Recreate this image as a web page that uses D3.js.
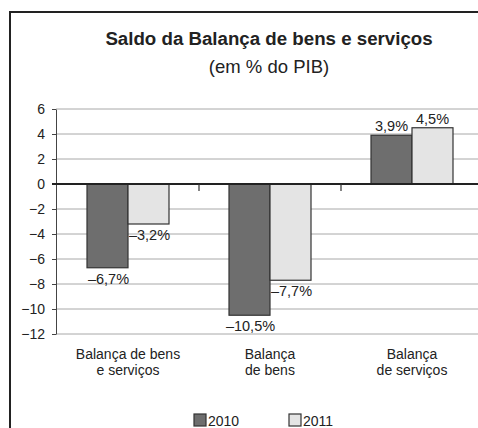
<html>
<head>
<meta charset="utf-8">
<script src="https://d3js.org/d3.v7.min.js"></script>
<style>
body { margin: 0; background: #fff; font-family: 'Liberation Sans', Arial, sans-serif; }
svg { display: block; }
.grid line { stroke: #a8a8a8; stroke-width: 1; }
text { fill: #222; }
</style>
</head>
<body>
<div id="chart"></div>
<script>
var categories = [["Balança de bens", "e serviços"], ["Balança", "de bens"], ["Balança", "de serviços"]];
var years = ["2010", "2011"];
var values2010 = [-6.7, -10.5, 3.9];
var values2011 = [-3.2, -7.7, 4.5];
var labels2010 = ["\u20136,7%", "\u201310,5%", "3,9%"];
var labels2011 = ["\u20133,2%", "\u20137,7%", "4,5%"];
var yTicks = [6, 4, 2, 0, -2, -4, -6, -8, -10, -12];
var colors = ["#6e6e6e", "#e4e4e4"];

var width = 478, height = 428;

var svg = d3.select("#chart").append("svg")
	.attr("width", width).attr("height", height);

// outer frame (only top and left show in the picture)
svg.append("line").attr("x1", 10).attr("x2", width + 5).attr("y1", 12).attr("y2", 12)
	.attr("stroke", "#222").attr("stroke-width", 2);
svg.append("line").attr("x1", 10).attr("x2", 10).attr("y1", 11).attr("y2", height + 5)
	.attr("stroke", "#222").attr("stroke-width", 2);

svg.append("text").attr("x", 269).attr("y", 45).attr("text-anchor", "middle")
	.style("font-size", "18.7px").style("font-weight", "bold")
	.text("Saldo da Balança de bens e serviços");
svg.append("text").attr("x", 269).attr("y", 73).attr("text-anchor", "middle")
	.style("font-size", "18.5px")
	.text("(em % do PIB)");

var y = d3.scaleLinear().domain([-12, 6]).range([334, 109]);
var x = d3.scaleBand().domain(d3.range(categories.length)).range([57, 483]);
var xs = d3.scaleBand().domain(years).range([0, 82]);
var groupOffset = (x.bandwidth() - 82) / 2;

// gridlines
svg.append("g").attr("class", "grid")
	.selectAll("line").data(yTicks.filter(function (d) { return d != 0; }))
	.enter().append("line")
	.attr("x1", 56).attr("x2", width)
	.attr("y1", function (d) { return y(d); })
	.attr("y2", function (d) { return y(d); });

// y axis
var yAxis = d3.axisLeft(y).tickValues(yTicks).tickSize(4).tickSizeOuter(0)
	.tickFormat(function (d) { return d < 0 ? "\u2212" + Math.abs(d) : d; });
var gy = svg.append("g").attr("transform", "translate(56,0)").call(yAxis);
gy.select(".domain").attr("stroke", "#444");
gy.selectAll(".tick line").attr("stroke", "#444");
gy.selectAll("text").style("font-size", "14px").style("font-family", "'Liberation Sans', Arial, sans-serif")
	.attr("fill", "#222").attr("x", -11);

var series = [values2010, values2011];
var labels = [labels2010, labels2011];

series.forEach(function (vals, s) {
	vals.forEach(function (v, i) {
		var bx = x(i) + groupOffset + xs(years[s]);
		svg.append("rect")
			.attr("x", bx)
			.attr("y", y(Math.max(0, v)))
			.attr("width", xs.bandwidth())
			.attr("height", Math.abs(y(v) - y(0)))
			.attr("fill", colors[s]).attr("stroke", "#333").attr("stroke-width", 1.2);
		svg.append("text")
			.attr("x", bx + xs.bandwidth() / 2 + (v < 0 ? 1 : 0))
			.attr("y", v < 0 ? y(v) + 16 : y(v) - 4)
			.attr("text-anchor", "middle")
			.style("font-size", "14.5px")
			.text(labels[s][i]);
	});
});

// zero line with category ticks
svg.append("line").attr("x1", 52).attr("x2", width).attr("y1", y(0)).attr("y2", y(0))
	.attr("stroke", "#222").attr("stroke-width", 2);
svg.append("g").selectAll("line").data(d3.range(1, categories.length))
	.enter().append("line")
	.attr("x1", function (d) { return x(d); }).attr("x2", function (d) { return x(d); })
	.attr("y1", y(0)).attr("y2", y(0) + 7)
	.attr("stroke", "#333").attr("stroke-width", 1.2);

// category labels
categories.forEach(function (c, i) {
	var t = svg.append("text").attr("text-anchor", "middle").style("font-size", "14px");
	c.forEach(function (line, k) {
		t.append("tspan").attr("x", x(i) + x.bandwidth() / 2).attr("y", 359 + k * 16).text(line);
	});
});

// legend
var legendX = [194, 289];
years.forEach(function (yr, s) {
	svg.append("rect").attr("x", legendX[s]).attr("y", 414).attr("width", 12).attr("height", 12)
		.attr("fill", colors[s]).attr("stroke", "#333").attr("stroke-width", 1.2);
	svg.append("text").attr("x", legendX[s] + 14).attr("y", 425.5)
		.style("font-size", "14px").text(yr);
});
</script>
</body>
</html>
